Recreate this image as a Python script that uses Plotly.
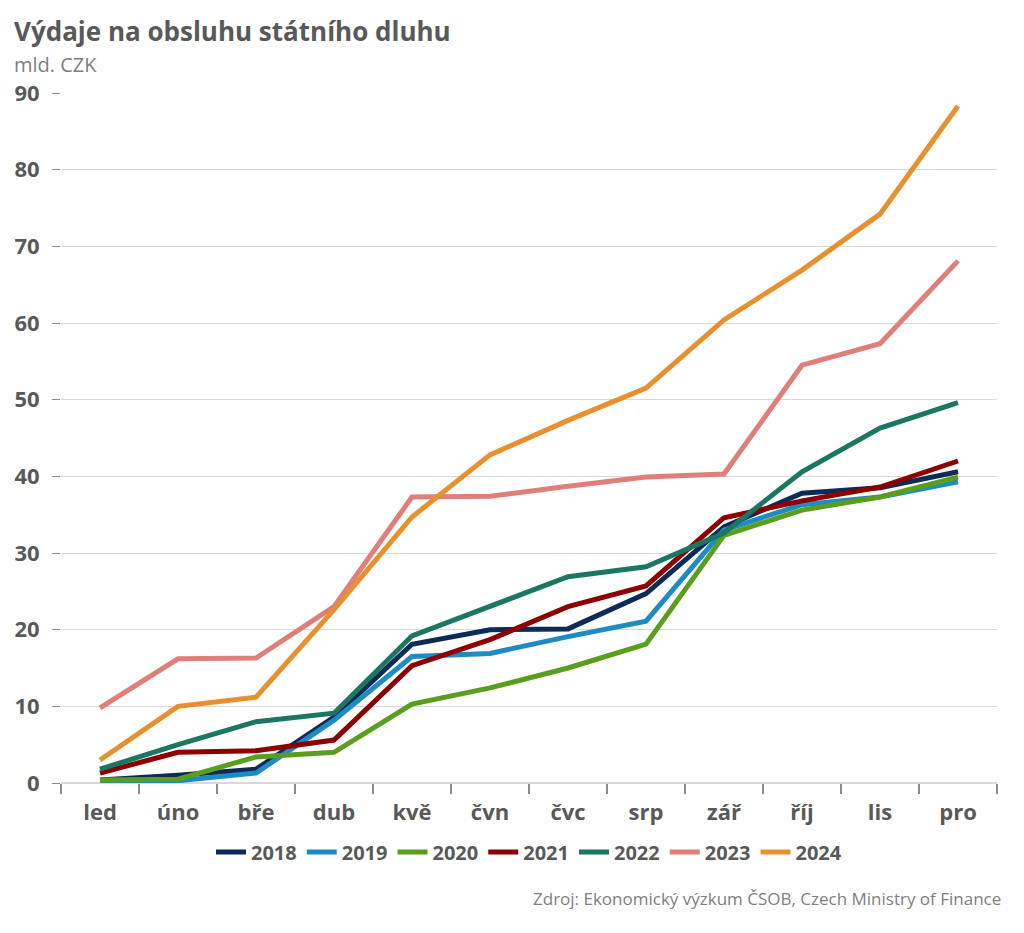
import plotly.graph_objects as go

months = ["led", "úno", "bře", "dub", "kvě", "čvn", "čvc", "srp", "zář", "říj", "lis", "pro"]

y2018 = [0.4, 1.0, 1.8, 8.6, 18.1, 20.0, 20.1, 24.7, 33.4, 37.8, 38.5, 40.6]
y2019 = [0.0, 0.3, 1.3, 8.2, 16.5, 16.9, 19.1, 21.1, 33.0, 36.3, 37.3, 39.3]
y2020 = [0.4, 0.5, 3.4, 4.0, 10.3, 12.4, 15.0, 18.1, 32.3, 35.6, 37.3, 39.9]
y2021 = [1.3, 4.0, 4.2, 5.6, 15.3, 18.7, 23.0, 25.7, 34.6, 36.8, 38.6, 42.0]
y2022 = [1.8, 5.0, 8.0, 9.1, 19.2, 23.1, 26.9, 28.2, 32.6, 40.6, 46.3, 49.6]
y2023 = [9.8, 16.2, 16.3, 23.0, 37.3, 37.4, 38.7, 39.9, 40.3, 54.5, 57.3, 68.1]
y2024 = [3.0, 10.0, 11.2, 22.6, 34.7, 42.8, 47.3, 51.5, 60.4, 66.9, 74.2, 88.3]

series = [
    ("2018", y2018, "#0d2b57"),
    ("2019", y2019, "#1e8bc3"),
    ("2020", y2020, "#5a9e1e"),
    ("2021", y2021, "#8e0000"),
    ("2022", y2022, "#1b7761"),
    ("2023", y2023, "#e07f79"),
    ("2024", y2024, "#e88f2e"),
]

fig = go.Figure()
for name, vals, color in series:
    fig.add_trace(go.Scatter(
        x=months, y=vals, name=name, mode="lines",
        line=dict(color=color, width=5),
        cliponaxis=False,
    ))

font_family = "Open Sans"
text_color = "#595959"

fig.update_layout(
    width=1024, height=933,
    margin=dict(l=61, r=27, t=93, b=150),
    paper_bgcolor="white", plot_bgcolor="white",
    font=dict(family=font_family, color=text_color),
    showlegend=True,
    legend=dict(
        orientation="h", x=0.5, xanchor="center", y=-0.1, yanchor="middle",
        font=dict(size=20, family=font_family, color=text_color, weight="bold"),
        itemwidth=30, tracegroupgap=0, itemsizing="constant",
    ),
    xaxis=dict(
        type="category", range=[-0.5, 11.5],
        showgrid=False, showline=False, zeroline=False,
        ticks="outside", tickson="boundaries", ticklen=10, tickwidth=2,
        tickcolor="#8c8c8c", ticklabelstandoff=14,
        tickfont=dict(size=22, family=font_family, color=text_color, weight="bold"),
    ),
    yaxis=dict(
        range=[0, 90], dtick=10, tick0=0,
        showgrid=True, gridcolor="#d9d9d9", gridwidth=1,
        zeroline=True, zerolinecolor="#d9d9d9", zerolinewidth=2,
        showline=False,
        ticks="outside", ticklen=8, tickwidth=1, tickcolor="#8c8c8c",
        ticklabelstandoff=8,
        tickfont=dict(size=22, family=font_family, color=text_color, weight="bold"),
    ),
    annotations=[
        dict(text="Výdaje na obsluhu státního dluhu", xref="paper", yref="paper",
             x=-0.0523, y=1.0899, xanchor="left", yanchor="middle", showarrow=False,
             font=dict(size=26, family=font_family, color=text_color, weight="bold")),
        dict(text="mld. CZK", xref="paper", yref="paper",
             x=-0.0523, y=1.042, xanchor="left", yanchor="middle", showarrow=False,
             font=dict(size=20, family=font_family, color="#808080")),
        dict(text="Zdroj: Ekonomický výzkum ČSOB, Czech Ministry of Finance",
             xref="paper", yref="paper", x=1.0064, y=-0.168,
             xanchor="right", yanchor="middle", showarrow=False,
             font=dict(size=17, family=font_family, color="#808080")),
    ],
)

fig.write_html("out.html")
